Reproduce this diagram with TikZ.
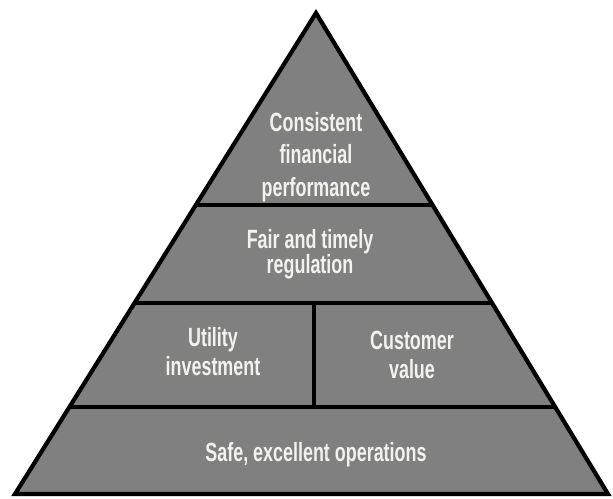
\documentclass[tikz,border=0pt]{standalone}
\usepackage{fontspec}
\setmainfont{Liberation Sans}[FakeStretch=0.68]
\usetikzlibrary{calc}

\definecolor{tiergray}{RGB}{128,128,128}
\definecolor{tiertext}{RGB}{242,242,238}

\begin{document}
\begin{tikzpicture}[
  x=0.02cm, y=-0.02cm,
  pyrshape/.style={draw=black, fill=tiergray, line width=2.4pt, line join=miter},
  tierline/.style={draw=black, line width=2.4pt},
  tierlabel/.style={align=center, text=tiertext, inner sep=0pt,
    font=\bfseries\fontsize{15}{15}\selectfont}
]
  \useasboundingbox (0,0) rectangle (613,498);
  \coordinate (apex) at (316,13);
  \coordinate (bl) at (15,494);
  \coordinate (br) at (608,494);
  % tier boundaries on the two sides
  \coordinate (l1) at ($(apex)!0.399!(bl)$);
  \coordinate (r1) at ($(apex)!0.399!(br)$);
  \coordinate (l2) at ($(apex)!0.603!(bl)$);
  \coordinate (r2) at ($(apex)!0.603!(br)$);
  \coordinate (l3) at ($(apex)!0.819!(bl)$);
  \coordinate (r3) at ($(apex)!0.819!(br)$);
  \coordinate (midtop) at (314,303);
  \coordinate (midbot) at (314,407);

  \draw[pyrshape] (apex) -- (bl) -- (br) -- cycle;
  \draw[tierline] (l1) -- (r1);
  \draw[tierline] (l2) -- (r2);
  \draw[tierline] (l3) -- (r3);
  \draw[tierline] (midtop) -- (midbot);

  \node[tierlabel] (perf) at (316,157) {Consistent\\[3.5pt]financial\\[3.5pt]performance};
  \node[tierlabel] (regul) at (310,254) {Fair and timely\\[-0.5pt]regulation};
  \node[tierlabel] (invest) at (213,352) {Utility\\[1.5pt]investment};
  \node[tierlabel] (custval) at (412,355) {Customer\\[1.5pt]value};
  \node[tierlabel] (safeops) at (316,455) {Safe, excellent operations};
\end{tikzpicture}
\end{document}
